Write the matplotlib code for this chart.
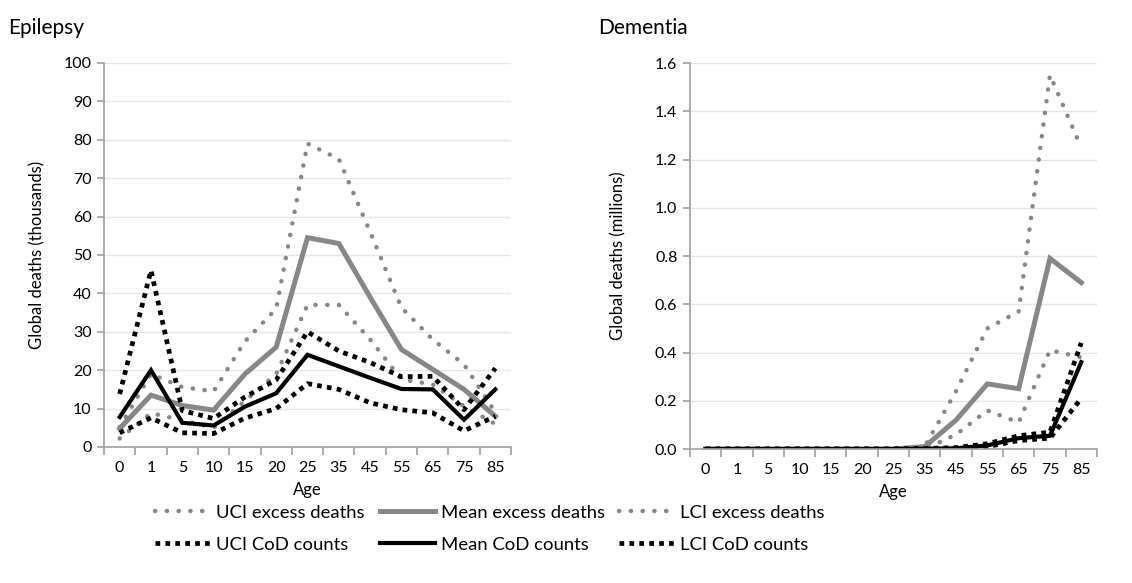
import matplotlib.pyplot as plt
from matplotlib.ticker import FixedLocator, MultipleLocator, FormatStrFormatter

plt.rcParams['font.family'] = ['Lato', 'DejaVu Sans']

ages = ['0', '1', '5', '10', '15', '20', '25', '35', '45', '55', '65', '75', '85']

# Epilepsy, thousands
epi_uci_excess = [5.2, 19, 15.6, 14.5, 27.5, 36, 79, 75, 56, 36.3, 28, 21.5, 9]
epi_mean_excess = [4.8, 13.5, 10.8, 9.6, 19, 26, 54.5, 53, 39, 25.4, 20.2, 15, 8]
epi_lci_excess = [2.2, 8.8, 7, 5, 12, 19, 37, 37, 28, 17.6, 16.3, 10.6, 6]
epi_uci_cod = [13.8, 46, 9.5, 7.4, 13, 17.5, 30, 25, 22, 18.3, 18.4, 9.7, 20.5]
epi_mean_cod = [7.8, 20, 6.3, 5.6, 10.5, 14, 24, 21, 18, 15.1, 15, 7.1, 15]
epi_lci_cod = [3.7, 7.6, 3.7, 3.5, 7.5, 10, 16.5, 15, 11.5, 9.7, 8.9, 4.2, 8]

# Dementia, millions
dem_uci_excess = [0, 0, 0, 0, 0, 0, 0, 0.01, 0.24, 0.50, 0.57, 1.55, 1.25]
dem_mean_excess = [0, 0, 0, 0, 0, 0, 0, 0.01, 0.12, 0.27, 0.25, 0.79, 0.69]
dem_lci_excess = [0, 0, 0, 0, 0, 0, 0, 0.0, 0.06, 0.16, 0.11, 0.41, 0.38]
dem_uci_cod = [0, 0, 0, 0, 0, 0, 0, 0.002, 0.006, 0.022, 0.055, 0.07, 0.44]
dem_mean_cod = [0, 0, 0, 0, 0, 0, 0, 0.001, 0.003, 0.015, 0.045, 0.055, 0.36]
dem_lci_cod = [0, 0, 0, 0, 0, 0, 0, 0.0, 0.002, 0.01, 0.035, 0.045, 0.21]

labels = ['UCI excess deaths', 'Mean excess deaths', 'LCI excess deaths',
          'UCI CoD counts', 'Mean CoD counts', 'LCI CoD counts']

GREY = '#878787'
styles = [
    dict(color=GREY, lw=3.2, linestyle=(0, (0.05, 2.6)), dash_capstyle='round'),
    dict(color=GREY, lw=3.6, linestyle='-'),
    dict(color=GREY, lw=3.2, linestyle=(0, (0.05, 2.6)), dash_capstyle='round'),
    dict(color='black', lw=3.4, linestyle=(0, (1, 1.1))),
    dict(color='black', lw=3.0, linestyle='-'),
    dict(color='black', lw=3.4, linestyle=(0, (1, 1.1))),
]

fig = plt.figure(figsize=(11.32, 5.83), dpi=100)
ax1 = fig.add_axes([0.0919, 0.2333, 0.3595, 0.6587])
ax2 = fig.add_axes([0.6095, 0.2298, 0.3595, 0.6621])


def style_axis(ax, series, ymax, step, fmt, ylabel, lab_x):
    x = range(len(ages))
    handles = []
    for data, st, lab in zip(series, styles, labels):
        h, = ax.plot(x, data, label=lab, solid_joinstyle='miter', **st)
        handles.append(h)
    ax.set_xlim(-0.5, len(ages) - 0.5)
    ax.set_ylim(0, ymax)
    ax.xaxis.set_major_locator(FixedLocator([i - 0.5 for i in range(len(ages) + 1)]))
    ax.xaxis.set_major_formatter(plt.NullFormatter())
    ax.xaxis.set_minor_locator(FixedLocator(list(x)))
    ax.set_xticklabels(ages, minor=True)
    ax.tick_params(axis='x', which='major', length=6, color='#a0a0a0', width=1.2)
    ax.tick_params(axis='x', which='minor', length=0, pad=10, labelsize=11.5)
    ax.yaxis.set_major_locator(MultipleLocator(step))
    ax.yaxis.set_major_formatter(FormatStrFormatter(fmt))
    ax.tick_params(axis='y', length=5, color='#a0a0a0', width=1.2, labelsize=11.5, pad=4)
    for s in ['top', 'right']:
        ax.spines[s].set_visible(False)
    for s in ['left', 'bottom']:
        ax.spines[s].set_color('#a0a0a0')
        ax.spines[s].set_linewidth(1.2)
    ax.grid(axis='y', color='#e6e6e6', lw=1)
    ax.set_axisbelow(True)
    ax.set_ylabel(ylabel, fontsize=12)
    ax.yaxis.set_label_coords(lab_x, 0.5)
    ax.set_xlabel('Age', fontsize=12)
    ax.xaxis.set_label_coords(0.5, -0.09)
    return handles


h = style_axis(ax1, [epi_uci_excess, epi_mean_excess, epi_lci_excess,
                     epi_uci_cod, epi_mean_cod, epi_lci_cod],
               100, 10, '%d', 'Global deaths (thousands)', -0.145)
style_axis(ax2, [dem_uci_excess, dem_mean_excess, dem_lci_excess,
                 dem_uci_cod, dem_mean_cod, dem_lci_cod],
           1.6, 0.2, '%.1f', 'Global deaths (millions)', -0.155)

fig.text(0.007, 0.952, 'Epilepsy', fontsize=15, va='center')
fig.text(0.528, 0.952, 'Dementia', fontsize=15, va='center')

order = [0, 3, 1, 4, 2, 5]
fig.legend([h[i] for i in order], [labels[i] for i in order], ncol=3,
           loc='center', bbox_to_anchor=(0.433, 0.093), frameon=False,
           fontsize=13.3, handlelength=3.0, handletextpad=0.3,
           columnspacing=0.8, labelspacing=0.85)

fig.savefig('out.png', dpi=100)
